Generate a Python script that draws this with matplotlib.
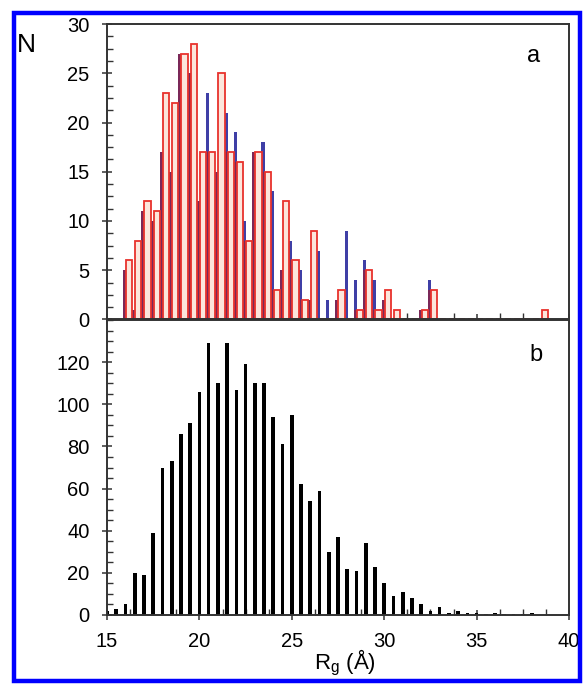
import numpy as np
import matplotlib
matplotlib.use("Agg")
import matplotlib.pyplot as plt
from matplotlib.patches import Rectangle
from matplotlib.ticker import MultipleLocator

plt.rcParams["font.family"] = ["Liberation Sans", "DejaVu Sans"]

# panel a: two histograms of Rg (bins 16.0 ... 38.5, step 0.5)
bins_a = np.arange(16.0, 39.0, 0.5)
red_a = [6, 8, 12, 11, 23, 22, 27, 28, 17, 17, 25, 17, 16, 8, 17, 15,
         3, 12, 6, 2, 9, 0, 0, 3, 0, 1, 5, 1, 3, 1, 0, 0, 1, 3,
         0, 0, 0, 0, 0, 0, 0, 0, 0, 0, 0, 1]
blue_a = [5, 1, 11, 10, 17, 15, 27, 25, 12, 23, 15, 21, 19, 10, 17, 18,
          13, 5, 8, 5, 2, 7, 2, 2, 9, 4, 6, 4, 2, 0, 0, 0, 1, 4,
          0, 0, 0, 0, 0, 0, 0, 0, 0, 0, 0, 0]

# panel b: single histogram (bins 15.0 ... 38.0, step 0.5)
bins_b = np.arange(15.0, 38.5, 0.5)
counts_b = [2, 3, 5, 20, 19, 39, 70, 73, 86, 91, 106, 129, 110, 129, 107, 119,
            110, 110, 94, 81, 95, 62, 54, 59, 30, 37, 22, 21, 34, 23, 15, 9,
            11, 8, 5, 2, 4, 1, 2, 1, 1, 0.5, 1, 0.5, 0.5, 0.5, 1]

W, H = 583, 684
fig = plt.figure(figsize=(W / 100, H / 100), dpi=100)

def fx(px):
    return px / W

def fy(py):
    return 1 - py / H

ax1 = fig.add_axes([fx(107), fy(319.5), fx(569) - fx(107), fy(24) - fy(319.5)])
ax2 = fig.add_axes([fx(107), fy(615), fx(569) - fx(107), fy(320) - fy(615)])

blue = "#3f3fa6"
maroon = "#7a2858"
red = "#e8322c"
pale = "#fce6dc"

red_a = np.array(red_a, dtype=float)
blue_a = np.array(blue_a, dtype=float)
low = np.minimum(blue_a, red_a)
ax1.bar(bins_a - 0.14, blue_a, width=0.17, align="edge", color=blue, linewidth=0, zorder=2)
ax1.bar(bins_a - 0.14, low, width=0.17, align="edge", color=maroon, linewidth=0, zorder=2)
ax1.bar(bins_a + 0.025, red_a, width=0.34, align="edge", facecolor=pale,
        edgecolor=red, linewidth=1.3, zorder=3)

ax2.bar(bins_b, counts_b, width=0.2, color="black", linewidth=0, zorder=2)

for ax in (ax1, ax2):
    ax.set_xlim(15, 40)
    ax.xaxis.set_major_locator(MultipleLocator(5))
    ax.xaxis.set_minor_locator(MultipleLocator(1.25))
    for s in ax.spines.values():
        s.set_color("#333333")
        s.set_linewidth(1.4)
        s.set_zorder(5)
    ax.tick_params(which="major", direction="inout", length=7, width=1.1,
                   color="#333333", labelsize=14.5)
    ax.tick_params(which="minor", direction="in", length=4, width=1.0, color="#333333")
    ax.tick_params(axis="y", pad=9)

ax1.set_ylim(0, 30)
ax1.yaxis.set_major_locator(MultipleLocator(5))
ax1.yaxis.set_minor_locator(MultipleLocator(1.25))
ax1.tick_params(axis="x", labelbottom=False)

ax2.set_ylim(0, 140)
ax2.set_yticks(range(0, 121, 20))
ax2.yaxis.set_minor_locator(MultipleLocator(5))
ax2.tick_params(axis="x", pad=9)

fig.text(fx(26), fy(45), "N", fontsize=19, ha="center", va="center")
fig.text(fx(534), fy(56), "a", fontsize=17, ha="center", va="center")
fig.text(fx(536), fy(355), "b", fontsize=17, ha="center", va="center")
fig.text(fx(345), fy(669), r"R$_\mathregular{g}$ (Å)", fontsize=16, ha="center", va="baseline")

# blue frame around the figure
fig.patches.append(Rectangle((fx(13.8), fy(681)), fx(580) - fx(13.8), fy(12.5) - fy(681),
                             transform=fig.transFigure, fill=False,
                             edgecolor="#0000ff", linewidth=3.2, zorder=10))

fig.savefig("out.png", dpi=100)
